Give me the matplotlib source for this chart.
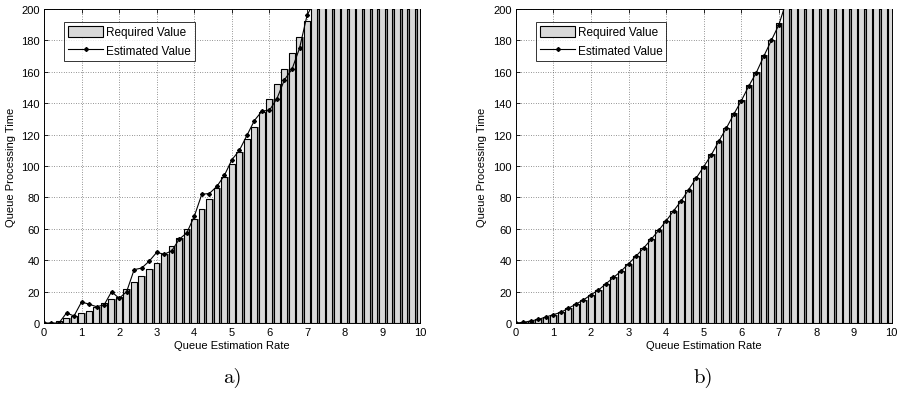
import numpy as np
import matplotlib
matplotlib.use('Agg')
from matplotlib import pyplot as plt
from matplotlib.patches import Patch
from matplotlib.lines import Line2D

plt.rcParams['font.family'] = ['Liberation Sans', 'DejaVu Sans']

# queue estimation rate, one bar every 0.2
rate = [0.0, 0.2, 0.4, 0.6, 0.8, 1.0, 1.2, 1.4, 1.6, 1.8,
        2.0, 2.2, 2.4, 2.6, 2.8, 3.0, 3.2, 3.4, 3.6, 3.8,
        4.0, 4.2, 4.4, 4.6, 4.8, 5.0, 5.2, 5.4, 5.6, 5.8,
        6.0, 6.2, 6.4, 6.6, 6.8, 7.0, 7.2, 7.4, 7.6, 7.8,
        8.0, 8.2, 8.4, 8.6, 8.8, 9.0, 9.2, 9.4, 9.6, 9.8, 10.0]

# required processing time (bars)
required_a = [0, 0, 1, 3, 4.5, 6.2, 7.4, 10.5, 12.5, 15.1,
              16.4, 21.7, 26.2, 30, 34.3, 38.5, 44, 49, 54, 60,
              66, 72.8, 79, 86, 93, 101, 109, 117, 125, 134.5,
              143, 152.5, 161.7, 172, 182, 192.5, 207, 219, 231, 243,
              256, 269, 282, 296, 310, 324, 339, 354, 369, 384, 400]
required_b = [0, 0.4, 1.3, 2.3, 3.8, 5.3, 6.8, 9.4, 12, 14.7,
              18, 21, 25, 29, 33, 37.7, 42.6, 47.7, 53.2, 59,
              65, 71.5, 77.7, 85, 92.3, 100, 107.5, 116, 124.5, 133.5,
              142, 151.5, 160, 170.5, 180.5, 191, 207, 219, 231, 243,
              256, 269, 282, 296, 310, 324, 339, 354, 369, 384, 400]

# estimated processing time (line)
estimated_a = [0, 0, 0, 6.4, 4.5, 13.4, 12, 10.4, 11.5, 20,
               15.7, 20, 34, 35, 39.4, 45, 43.8, 46, 53.4, 57.4,
               68, 82, 82.5, 87, 94, 104, 110, 119.5, 129, 135,
               135.5, 143, 155, 161.7, 175, 196, 205, 218, 230, 242,
               255, 268, 281, 295, 309, 323, 338, 353, 368, 383, 399]
estimated_b = [0, 0.4, 1.3, 2.3, 3.8, 5.3, 6.8, 9.4, 12, 14.7,
               18, 21, 25, 29, 33, 37.7, 42.6, 47.7, 53.2, 59,
               65, 71.5, 77.7, 85, 92.3, 99.6, 107, 115.7, 124, 133,
               141.5, 151, 159.5, 170, 180, 190, 205, 218, 230, 242,
               255, 268, 281, 295, 309, 323, 338, 353, 368, 383, 399]

x_ticks = [0, 1, 2, 3, 4, 5, 6, 7, 8, 9, 10]
y_ticks = [0, 20, 40, 60, 80, 100, 120, 140, 160, 180, 200]

BAR_FILL = '#d9d9d9'
BAR_SHADE = '#8a8a8a'


def draw_panel(ax, required, estimated):
    x = np.array(rate)
    # dark strip behind each bar, then the bar itself
    ax.bar(x - 0.085, required, width=0.2, align='edge', color=BAR_SHADE,
           linewidth=0, zorder=2)
    ax.bar(x - 0.085, required, width=0.155, align='edge', color=BAR_FILL,
           edgecolor='black', linewidth=0.8, zorder=3)
    ax.plot(x, estimated, color='black', linewidth=0.8, marker='D',
            markersize=2.0, zorder=4)

    ax.set_xlim(0, 10)
    ax.set_ylim(0, 200)
    ax.set_xticks(x_ticks)
    ax.set_yticks(y_ticks)
    ax.tick_params(direction='in', length=3, width=0.6, labelsize=8,
                   top=True, right=True, pad=3)
    ax.grid(True, color='#333333', linestyle=(0, (1, 2.5)), linewidth=0.5)
    ax.set_axisbelow(True)
    for s in ax.spines.values():
        s.set_linewidth(0.7)
    ax.set_xlabel('Queue Estimation Rate', fontsize=8, labelpad=2)
    ax.set_ylabel('Queue Processing Time', fontsize=8, labelpad=4)

    handles = [Patch(facecolor=BAR_FILL, edgecolor='black', linewidth=0.8),
               Line2D([], [], color='black', linewidth=0.8, marker='D',
                      markersize=2.0)]
    leg = ax.legend(handles, ['Required Value', 'Estimated Value'],
                    loc='upper left', bbox_to_anchor=(0.053, 0.959),
                    fontsize=8.5, frameon=True, fancybox=False,
                    borderpad=0.35, labelspacing=0.5, handlelength=3.0,
                    handleheight=1.0, handletextpad=0.2, borderaxespad=0)
    leg.get_frame().set_edgecolor('black')
    leg.get_frame().set_linewidth(0.7)
    leg.set_zorder(10)


fig = plt.figure(figsize=(8.97, 4.02), dpi=100)
ax_a = fig.add_axes([0.049, 0.194, 0.419, 0.781])
ax_b = fig.add_axes([0.575, 0.194, 0.419, 0.781])

draw_panel(ax_a, required_a, estimated_a)
draw_panel(ax_b, required_b, estimated_b)

fig.text(0.259, 0.047, 'a)', fontsize=15, family='cmr10', ha='center')
fig.text(0.784, 0.047, 'b)', fontsize=15, family='cmr10', ha='center')

fig.savefig('out.png', dpi=100)
plt.close(fig)
